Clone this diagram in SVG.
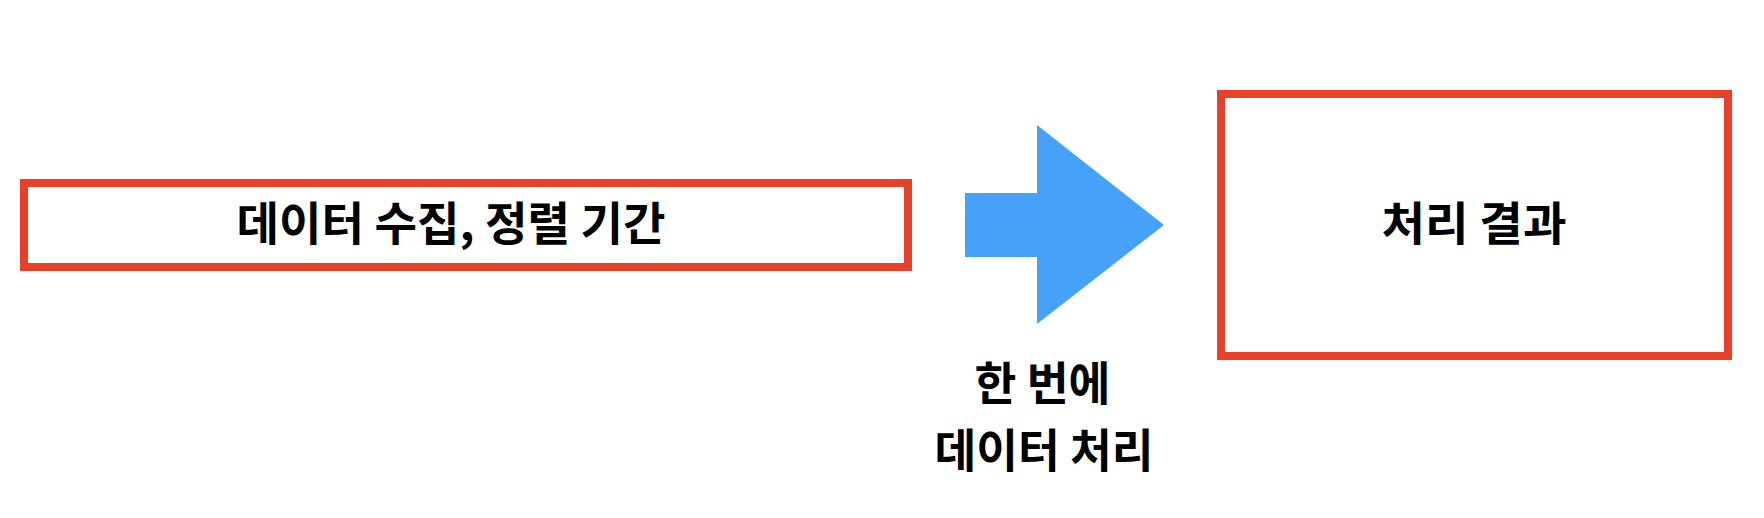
<svg xmlns="http://www.w3.org/2000/svg" width="1764" height="518" viewBox="0 0 1764 518">
<style>
.box{fill:#ffffff;stroke:#E94129;stroke-width:8}
.t{font-family:"Noto Sans CJK KR","Noto Sans",sans-serif;font-weight:bold;font-size:46px;fill:#000000;text-anchor:middle}
.arrow{fill:#46A2F8}
</style>
<rect width="1764" height="518" fill="#ffffff"/>
<g id="node-collect">
<rect class="box" x="24" y="183" width="884" height="84"/>
<text class="t" x="451" y="240" textLength="429" lengthAdjust="spacingAndGlyphs">데이터 수집, 정렬 기간</text>
</g>
<g id="node-result">
<rect class="box" x="1221" y="94" width="507" height="262"/>
<text class="t" x="1474" y="240" textLength="185" lengthAdjust="spacingAndGlyphs">처리 결과</text>
</g>
<g id="connectors">
<polygon class="arrow" points="965,193 1037,193 1037,125 1164,225 1037,324 1037,257 965,257"/>
<text class="t" x="1042.5" y="400" textLength="136" lengthAdjust="spacingAndGlyphs">한 번에</text>
<text class="t" x="1044" y="467" textLength="219" lengthAdjust="spacingAndGlyphs">데이터 처리</text>
</g>
</svg>
